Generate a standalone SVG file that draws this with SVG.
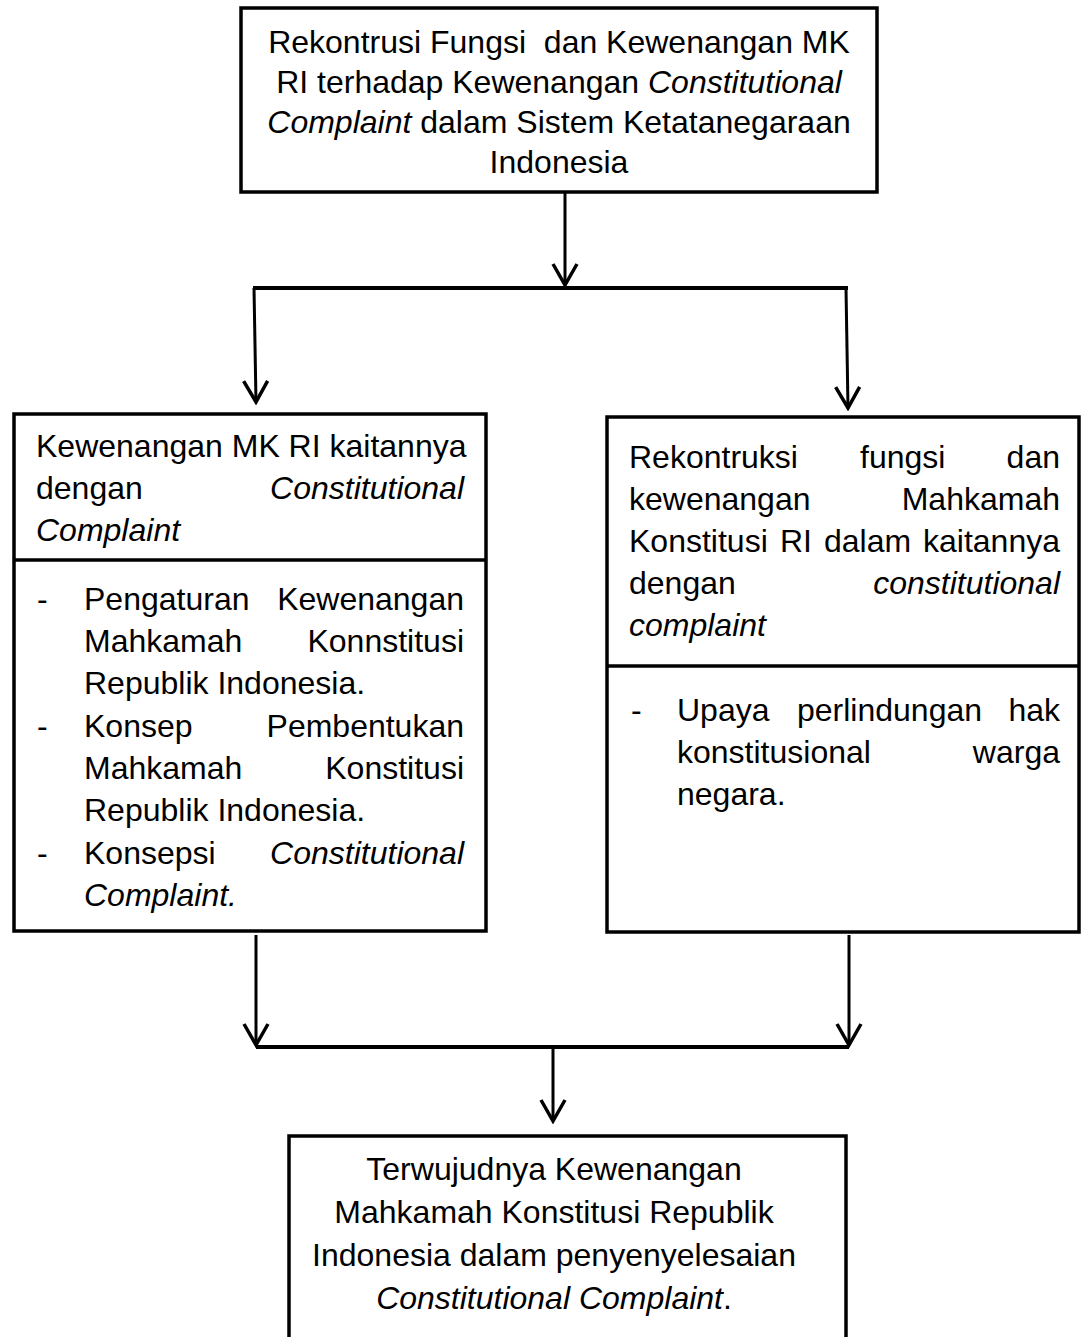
<svg xmlns="http://www.w3.org/2000/svg" width="1082" height="1337" viewBox="0 0 1082 1337">
<style>
.box{fill:#fff;stroke:#000;stroke-width:3.5}
.div{stroke:#000;stroke-width:3.5}
text{font-family:"Liberation Sans",Arial,sans-serif;font-size:32px;fill:#000;white-space:pre}
.c{text-anchor:middle}
.e{text-anchor:end}
.i{font-style:italic}
.ln{fill:none;stroke:#000;stroke-width:3}
.hl{fill:none;stroke:#000;stroke-width:4}
</style>
<defs>
<marker id="v" markerUnits="userSpaceOnUse" viewBox="-24 -14 27 28" refX="0" refY="0" markerWidth="27" markerHeight="28" orient="auto">
<path d="M-21,-12 L0,0 L-21,12" fill="none" stroke="#000" stroke-width="3.5"/>
</marker>
</defs>
<g id="connectors">
<path class="ln" d="M565,193 L565,285" marker-end="url(#v)"/>
<path class="hl" d="M253,288 L848,288"/>
<path class="ln" d="M254,288 L256,402" marker-end="url(#v)"/>
<path class="ln" d="M846,288 L848,408" marker-end="url(#v)"/>
<path class="ln" d="M256,935 L256,1045" marker-end="url(#v)"/>
<path class="ln" d="M849,935 L849,1045" marker-end="url(#v)"/>
<path class="hl" d="M256,1047 L849,1047"/>
<path class="ln" d="M553,1049 L553,1121" marker-end="url(#v)"/>
</g>
<g id="node-top">
<rect class="box" x="241" y="8" width="636" height="184"/>
<text class="c" x="559" y="53" xml:space="preserve">Rekontrusi Fungsi  dan Kewenangan MK</text>
<text class="c" x="559" y="93">RI terhadap Kewenangan <tspan class="i">Constitutional</tspan></text>
<text class="c" x="559" y="133"><tspan class="i">Complaint</tspan> dalam Sistem Ketatanegaraan</text>
<text class="c" x="559" y="173">Indonesia</text>
</g>
<g id="node-left">
<rect class="box" x="14" y="414" width="472" height="517"/>
<line class="div" x1="14" y1="560" x2="486" y2="560"/>
<text x="36" y="457">Kewenangan MK RI kaitannya</text>
<text x="36" y="499">dengan</text>
<text class="e i" x="464" y="499">Constitutional</text>
<text class="i" x="36" y="541">Complaint</text>
<text x="37" y="610">-</text>
<text x="84" y="610">Pengaturan</text>
<text class="e" x="464" y="610">Kewenangan</text>
<text x="84" y="652">Mahkamah</text>
<text class="e" x="464" y="652">Konnstitusi</text>
<text x="84" y="694">Republik Indonesia.</text>
<text x="37" y="737">-</text>
<text x="84" y="737">Konsep</text>
<text class="e" x="464" y="737">Pembentukan</text>
<text x="84" y="779">Mahkamah</text>
<text class="e" x="464" y="779">Konstitusi</text>
<text x="84" y="821">Republik Indonesia.</text>
<text x="37" y="864">-</text>
<text x="84" y="864">Konsepsi</text>
<text class="e i" x="464" y="864">Constitutional</text>
<text class="i" x="84" y="906">Complaint.</text>
</g>
<g id="node-right">
<rect class="box" x="607" y="417" width="472" height="515"/>
<line class="div" x1="607" y1="666" x2="1079" y2="666"/>
<text x="629" y="468">Rekontruksi</text>
<text x="860" y="468">fungsi</text>
<text class="e" x="1060" y="468">dan</text>
<text x="629" y="510">kewenangan</text>
<text class="e" x="1060" y="510">Mahkamah</text>
<text x="629" y="552">Konstitusi</text>
<text x="780" y="552">RI</text>
<text x="824" y="552">dalam</text>
<text class="e" x="1060" y="552">kaitannya</text>
<text x="629" y="594">dengan</text>
<text class="e i" x="1060" y="594">constitutional</text>
<text class="i" x="629" y="636">complaint</text>
<text x="631" y="721">-</text>
<text x="677" y="721">Upaya</text>
<text x="797" y="721">perlindungan</text>
<text class="e" x="1060" y="721">hak</text>
<text x="677" y="763">konstitusional</text>
<text class="e" x="1060" y="763">warga</text>
<text x="677" y="805">negara.</text>
</g>
<g id="node-bottom">
<rect class="box" x="289" y="1136" width="557" height="215"/>
<text class="c" x="554" y="1180">Terwujudnya Kewenangan</text>
<text class="c" x="554" y="1223">Mahkamah Konstitusi Republik</text>
<text class="c" x="554" y="1266">Indonesia dalam penyenyelesaian</text>
<text class="c" x="554" y="1309"><tspan class="i">Constitutional Complaint</tspan>.</text>
</g>
</svg>
